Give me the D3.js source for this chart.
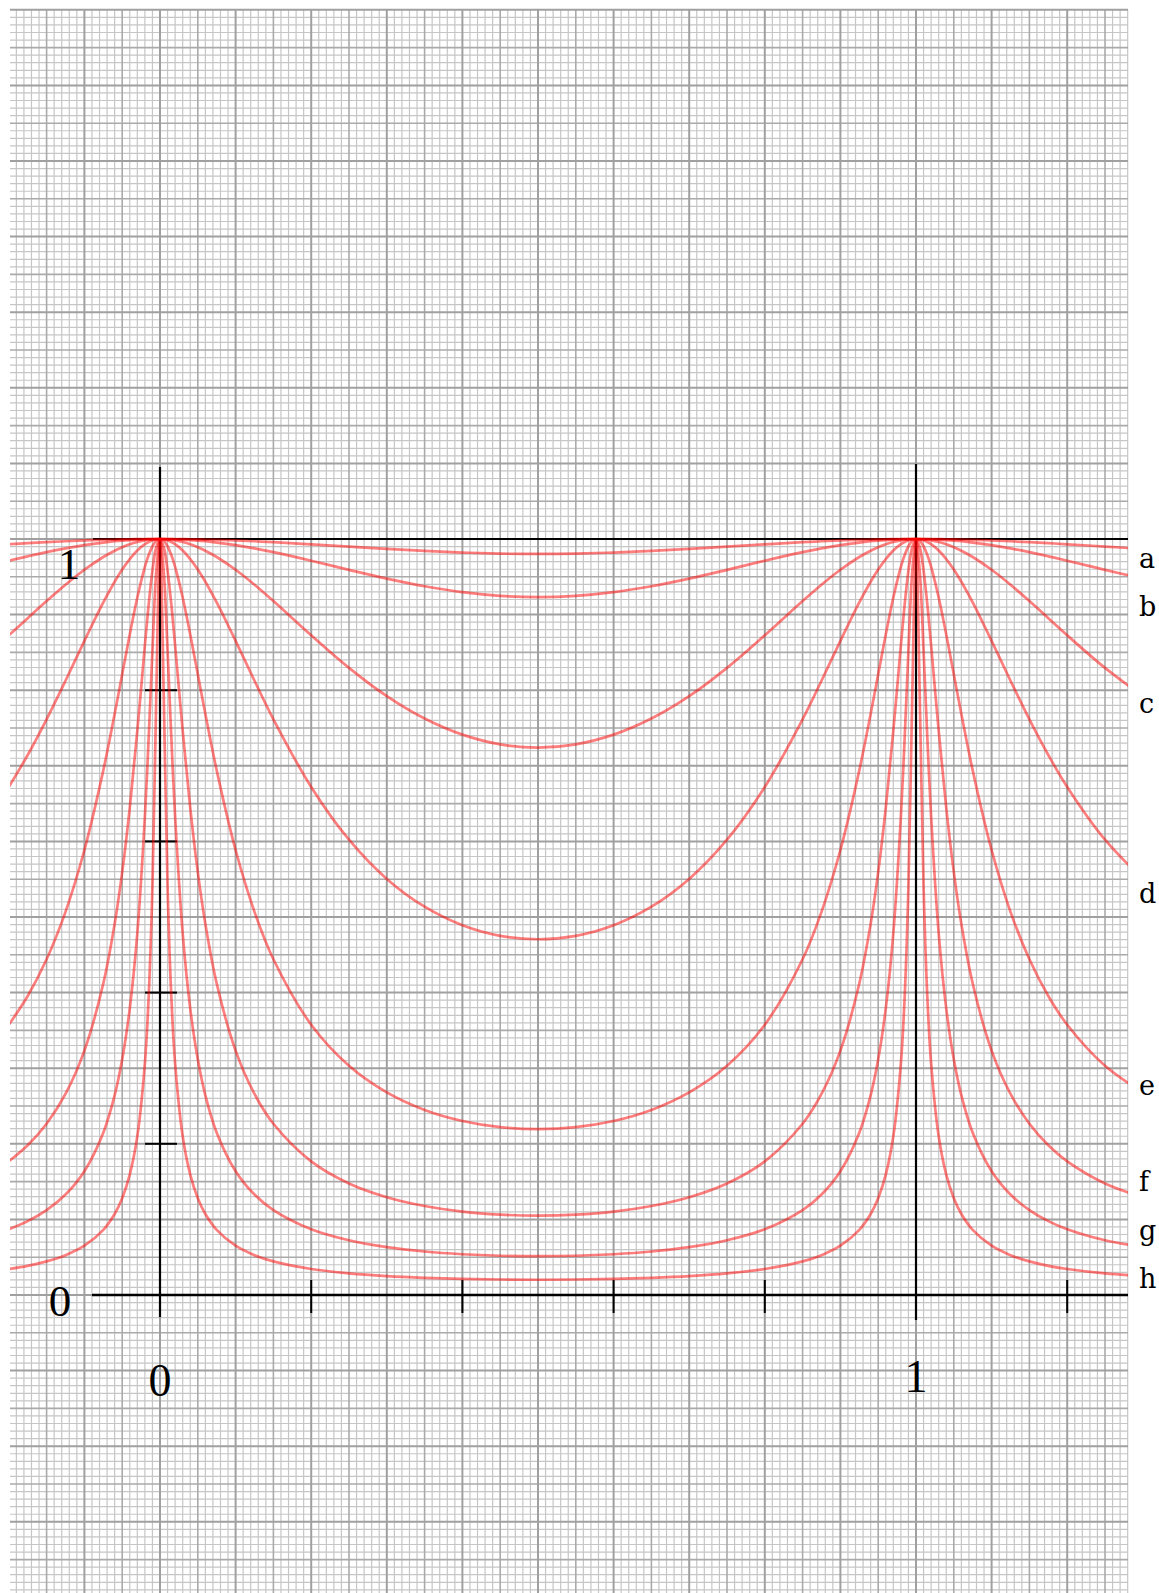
<!DOCTYPE html>
<html>
<head>
<meta charset="utf-8">
<script src="https://cdn.jsdelivr.net/npm/d3@7"></script>
<style>
html,body{margin:0;padding:0;background:#fff;}
svg{display:block;}
</style>
</head>
<body>
<svg id="chart" width="1159" height="1593"></svg>
<script>
// ---- data ----
const xValues = [-0.2,-0.175,-0.15,-0.125,-0.1,-0.075,-0.06,-0.05,-0.04,-0.03,-0.02,-0.015,-0.01,-0.005,0,
  0.005,0.01,0.015,0.02,0.03,0.04,0.05,0.06,0.075,0.1,0.125,0.15,0.2,0.25,0.3,0.35,0.4,0.45,0.5,
  0.55,0.6,0.65,0.7,0.75,0.8,0.85,0.875,0.9,0.925,0.94,0.95,0.96,0.97,0.98,0.985,0.99,0.995,1,
  1.005,1.01,1.015,1.02,1.03,1.04,1.05,1.06,1.075,1.1,1.125,1.15,1.175,1.2,1.25,1.3];

const curveA = [0.993,0.9945,0.9958,0.997,0.9981,0.9989,0.9993,0.9995,0.9997,0.9998,0.9999,1,1,1,1,
  1,1,1,0.9999,0.9998,0.9997,0.9995,0.9993,0.9989,0.9981,0.997,0.9958,0.993,0.99,0.9869,0.9842,0.9821,0.9807,0.9802,
  0.9807,0.9821,0.9842,0.9869,0.99,0.993,0.9958,0.997,0.9981,0.9989,0.9993,0.9995,0.9997,0.9998,0.9999,1,1,1,1,
  1,1,1,0.9999,0.9998,0.9997,0.9995,0.9993,0.9989,0.9981,0.997,0.9958,0.9945,0.993,0.99,0.9869];
const curveB = [0.9713,0.9771,0.9826,0.9875,0.9918,0.9953,0.997,0.9979,0.9986,0.9992,0.9997,0.9998,0.9999,1,1,
  1,0.9999,0.9998,0.9997,0.9992,0.9986,0.9979,0.997,0.9953,0.9918,0.9875,0.9826,0.9713,0.9592,0.9476,0.9375,0.9297,0.9248,0.9231,
  0.9248,0.9297,0.9375,0.9476,0.9592,0.9713,0.9826,0.9875,0.9918,0.9953,0.997,0.9979,0.9986,0.9992,0.9997,0.9998,0.9999,1,1,
  1,0.9999,0.9998,0.9997,0.9992,0.9986,0.9979,0.997,0.9953,0.9918,0.9875,0.9826,0.9771,0.9713,0.9592,0.9476];
const curveC = [0.8726,0.8953,0.9179,0.9395,0.9593,0.9762,0.9845,0.9891,0.993,0.996,0.9982,0.999,0.9996,0.9999,1,
  0.9999,0.9996,0.999,0.9982,0.996,0.993,0.9891,0.9845,0.9762,0.9593,0.9395,0.9179,0.8726,0.8295,0.7921,0.7625,0.7412,0.7284,0.7241,
  0.7284,0.7412,0.7625,0.7921,0.8295,0.8726,0.9179,0.9395,0.9593,0.9762,0.9845,0.9891,0.993,0.996,0.9982,0.999,0.9996,0.9999,1,
  0.9999,0.9996,0.999,0.9982,0.996,0.993,0.9891,0.9845,0.9762,0.9593,0.9395,0.9179,0.8953,0.8726,0.8295,0.7921];
const curveD = [0.672,0.7143,0.7615,0.8125,0.8653,0.9161,0.9435,0.9596,0.9735,0.9848,0.9931,0.9961,0.9983,0.9996,1,
  0.9996,0.9983,0.9961,0.9931,0.9848,0.9735,0.9596,0.9435,0.9161,0.8653,0.8125,0.7615,0.672,0.6022,0.5504,0.5136,0.4891,0.4751,0.4706,
  0.4751,0.4891,0.5136,0.5504,0.6022,0.672,0.7615,0.8125,0.8653,0.9161,0.9435,0.9596,0.9735,0.9848,0.9931,0.9961,0.9983,0.9996,1,
  0.9996,0.9983,0.9961,0.9931,0.9848,0.9735,0.9596,0.9435,0.9161,0.8653,0.8125,0.7615,0.7143,0.672,0.6022,0.5504];
const curveE = [0.3575,0.3955,0.4441,0.5068,0.5886,0.694,0.7684,0.8211,0.8736,0.9226,0.9632,0.9788,0.9904,0.9976,1,
  0.9976,0.9904,0.9788,0.9632,0.9226,0.8736,0.8211,0.7684,0.694,0.5886,0.5068,0.4441,0.3575,0.3032,0.268,0.2448,0.2302,0.2221,0.2195,
  0.2221,0.2302,0.2448,0.268,0.3032,0.3575,0.4441,0.5068,0.5886,0.694,0.7684,0.8211,0.8736,0.9226,0.9632,0.9788,0.9904,0.9976,1,
  0.9976,0.9904,0.9788,0.9632,0.9226,0.8736,0.8211,0.7684,0.694,0.5886,0.5068,0.4441,0.3955,0.3575,0.3032,0.268];
const curveF = [0.1768,0.198,0.2265,0.2659,0.3233,0.412,0.4908,0.5593,0.6442,0.7464,0.8594,0.9132,0.9585,0.9891,1,
  0.9891,0.9585,0.9132,0.8594,0.7464,0.6442,0.5593,0.4908,0.412,0.3233,0.2659,0.2265,0.1768,0.1476,0.1294,0.1177,0.1103,0.1063,0.105,
  0.1063,0.1103,0.1177,0.1294,0.1476,0.1768,0.2265,0.2659,0.3233,0.412,0.4908,0.5593,0.6442,0.7464,0.8594,0.9132,0.9585,0.9891,1,
  0.9891,0.9585,0.9132,0.8594,0.7464,0.6442,0.5593,0.4908,0.412,0.3233,0.2659,0.2265,0.198,0.1768,0.1476,0.1294];
const curveG = [0.087,0.0977,0.1123,0.1329,0.1638,0.2147,0.2641,0.3117,0.3789,0.4787,0.6328,0.7367,0.8529,0.9562,1,
  0.9562,0.8529,0.7367,0.6328,0.4787,0.3789,0.3117,0.2641,0.2147,0.1638,0.1329,0.1123,0.087,0.0724,0.0633,0.0575,0.0539,0.0519,0.0513,
  0.0519,0.0539,0.0575,0.0633,0.0724,0.087,0.1123,0.1329,0.1638,0.2147,0.2641,0.3117,0.3789,0.4787,0.6328,0.7367,0.8529,0.9562,1,
  0.9562,0.8529,0.7367,0.6328,0.4787,0.3789,0.3117,0.2641,0.2147,0.1638,0.1329,0.1123,0.0977,0.087,0.0724,0.0633];
const curveH = [0.0344,0.0386,0.0445,0.0527,0.0652,0.0862,0.1072,0.1281,0.1592,0.2099,0.3063,0.3942,0.541,0.7895,1,
  0.7895,0.541,0.3942,0.3063,0.2099,0.1592,0.1281,0.1072,0.0862,0.0652,0.0527,0.0445,0.0344,0.0286,0.025,0.0227,0.0212,0.0205,0.0202,
  0.0205,0.0212,0.0227,0.025,0.0286,0.0344,0.0445,0.0527,0.0652,0.0862,0.1072,0.1281,0.1592,0.2099,0.3063,0.3942,0.541,0.7895,1,
  0.7895,0.541,0.3942,0.3063,0.2099,0.1592,0.1281,0.1072,0.0862,0.0652,0.0527,0.0445,0.0386,0.0344,0.0286,0.025];

const seriesNames = ["a","b","c","d","e","f","g","h"];
const seriesValues = [curveA,curveB,curveC,curveD,curveE,curveF,curveG,curveH];
// value level at which each series letter sits (right margin)
const seriesLabelLevel = [0.962,0.898,0.770,0.518,0.265,0.138,0.073,0.0095];

const xTickValues = [0.2,0.4,0.6,0.8,1.2];
const yTickValues = [0.2,0.4,0.6,0.8];
const axisLabels = ["0","1"];

// ---- layout ----
const svg = d3.select("#chart");
const x = d3.scaleLinear().domain([0,1]).range([160,916]);
const y = d3.scaleLinear().domain([0,1]).range([1295,539]);

const gridLeft = 10, gridRight = 1128, gridTop = 10, gridBottom = 1593;

// graph paper
const gGrid = svg.append("g");
const xGrid = d3.range(-19,129);
const yGrid = d3.range(-39,171);
const styles = {
  1: {c:"#c6c6c6", w:1.2},
  5: {c:"#aaaaaa", w:1.6},
  0: {c:"#a0a0a0", w:2}
};
function level(i){ const k = ((i % 10) + 10) % 10; return k===0?0:(k===5?5:1); }
[1,5,0].forEach(lv => {
  const s = styles[lv];
  xGrid.filter(i => level(i)===lv).forEach(i => {
    const v = i/100;
    gGrid.append("line").attr("x1",x(v)).attr("x2",x(v)).attr("y1",gridTop).attr("y2",gridBottom)
      .attr("stroke",s.c).attr("stroke-width",s.w);
  });
  yGrid.filter(i => level(i)===lv).forEach(i => {
    const v = i/100;
    gGrid.append("line").attr("x1",gridLeft).attr("x2",gridRight).attr("y1",y(v)).attr("y2",y(v))
      .attr("stroke",s.c).attr("stroke-width",s.w);
  });
});

// axes
const gAx = svg.append("g").attr("stroke","#000");
gAx.append("line").attr("x1",93).attr("x2",gridRight).attr("y1",y(1)).attr("y2",y(1)).attr("stroke-width",2.2);
gAx.append("line").attr("x1",92).attr("x2",gridRight).attr("y1",y(0)).attr("y2",y(0)).attr("stroke-width",2.6);
gAx.append("line").attr("x1",x(0)).attr("x2",x(0)).attr("y1",467).attr("y2",1317).attr("stroke-width",2.2);
gAx.append("line").attr("x1",x(1)).attr("x2",x(1)).attr("y1",464).attr("y2",1320).attr("stroke-width",2.2);
xTickValues.forEach(v => {
  gAx.append("line").attr("x1",x(v)).attr("x2",x(v)).attr("y1",y(0)-15).attr("y2",y(0)+18).attr("stroke-width",2);
});
yTickValues.forEach(v => {
  gAx.append("line").attr("x1",x(0)-15).attr("x2",x(0)+17).attr("y1",y(v)).attr("y2",y(v)).attr("stroke-width",2);
});

// curves
svg.append("clipPath").attr("id","clip").append("rect")
  .attr("x",gridLeft).attr("y",0).attr("width",gridRight-gridLeft).attr("height",1593);
const line = d3.line().x((d,i)=>x(xValues[i])).y(d=>y(d)).curve(d3.curveCatmullRom.alpha(0.5));
const gCurves = svg.append("g").attr("clip-path","url(#clip)");
seriesValues.forEach(vals => {
  gCurves.append("path").attr("d",line(vals)).attr("fill","none")
    .attr("stroke","#ff0000").attr("stroke-opacity",0.5).attr("stroke-width",2.7)
    .attr("stroke-linejoin","round");
});

// labels
const digitFont = "'Liberation Serif', 'Times New Roman', serif";
svg.append("text").attr("x",69).attr("y",579).attr("text-anchor","middle")
  .attr("font-family",digitFont).attr("font-size",45).text(axisLabels[1]);
svg.append("text").attr("x",60).attr("y",1316).attr("text-anchor","middle")
  .attr("font-family",digitFont).attr("font-size",45).text(axisLabels[0]);
svg.append("text").attr("x",x(0)).attr("y",1396).attr("text-anchor","middle")
  .attr("font-family",digitFont).attr("font-size",46).text(axisLabels[0]);
svg.append("text").attr("x",x(1)).attr("y",1392).attr("text-anchor","middle")
  .attr("font-family",digitFont).attr("font-size",46).text(axisLabels[1]);

seriesNames.forEach((n,i) => {
  svg.append("text").attr("x",1139).attr("y",y(seriesLabelLevel[i]))
    .attr("font-family","'DejaVu Serif', serif").attr("font-size",27).attr("fill","#000").text(n);
});
</script>
</body>
</html>
